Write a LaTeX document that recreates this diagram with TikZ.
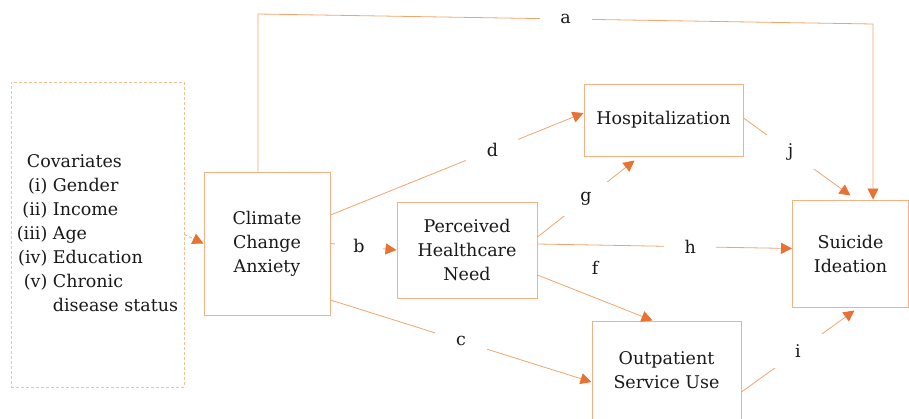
\documentclass[tikz,border=0pt]{standalone}
\usepackage{fontspec}
\setmainfont{DejaVu Serif}
\usetikzlibrary{arrows.meta}
\definecolor{boxline}{HTML}{F4B183}
\definecolor{edgeline}{HTML}{F2A46E}
\definecolor{tipfill}{HTML}{E97132}
\begin{document}
\begin{tikzpicture}[x=1pt,y=-1pt,
	every node/.style={font=\fontsize{17.5}{24}\selectfont,text=black!90},
	box/.style={draw=boxline,line width=1pt,align=center,inner sep=0pt},
	lbl/.style={fill=white,minimum width=52pt,minimum height=34pt,inner sep=0pt},
	link/.style={draw=edgeline,line width=0.8pt,-{Triangle[length=11pt,width=11pt,color=tipfill]}}
	]
	\useasboundingbox (0,0) rectangle (909,418);
	\node[box,draw=boxline!85,dash pattern=on 3pt off 2pt,minimum width=173pt,minimum height=305pt] (cov) at (97.5,234.5)
	{\begin{tabular}{@{}r@{\ }l@{}}
		\multicolumn{2}{@{\hspace{10pt}}l@{}}{Covariates}\\
		(i)&Gender\\
		(ii)&Income\\
		(iii)&Age\\
		(iv)&Education\\
		(v)&Chronic\\
		&disease status
	\end{tabular}};
	\node[box,minimum width=126pt,minimum height=143pt] (cca) at (267,243.5) {Climate\\Change\\Anxiety};
	\node[box,minimum width=140pt,minimum height=96pt] (phn) at (467,250) {Perceived\\Healthcare\\Need};
	\node[box,minimum width=159pt,minimum height=72pt] (hosp) at (663.5,120) {Hospitalization};
	\node[box,minimum width=116pt,minimum height=107pt] (si) at (850.5,253.5) {Suicide\\Ideation};
	\node[box,minimum width=149pt,minimum height=98pt] (osu) at (666.5,370) {Outpatient\\Service Use};
	\coordinate (topl) at (258,14);
	\coordinate (topr) at (873,24);
	
	\draw[link,dash pattern=on 3pt off 2pt] (cov.east) -- (cca.west);
	\draw[link] ([xshift=-9pt]cca.north) -- (topl) -- node[lbl]{a} (topr) -- (si.north -| topr);
	\draw[link] (cca.east) -- node[lbl,minimum width=48pt,pos=.43]{b} (phn.west);
	\draw[link] ([yshift=-56.5pt]cca.east) -- node[lbl]{c} ([yshift=-12pt]osu.west);
	\draw[link] ([yshift=28.5pt]cca.east) -- node[lbl,pos=.64]{d} ([yshift=7pt]hosp.west);
	\draw[link] ([yshift=-25pt]phn.east) -- node[pos=.5,above=20pt]{f} ([xshift=-14pt]osu.north);
	\draw[link] ([yshift=13pt]phn.east) -- node[lbl]{g} ([xshift=-29pt,yshift=-4pt]hosp.south);
	\draw[link] ([yshift=6pt]phn.east) -- node[lbl,pos=.6]{h} ([yshift=5pt]si.west);
	\draw[link] ([yshift=-22pt]osu.east) -- node[lbl]{i} ([xshift=4pt,yshift=-3pt]si.south);
	\draw[link] ([yshift=2pt]hosp.east) -- node[lbl,pos=.44]{j} ([yshift=4pt]si.north);
\end{tikzpicture}
\end{document}
